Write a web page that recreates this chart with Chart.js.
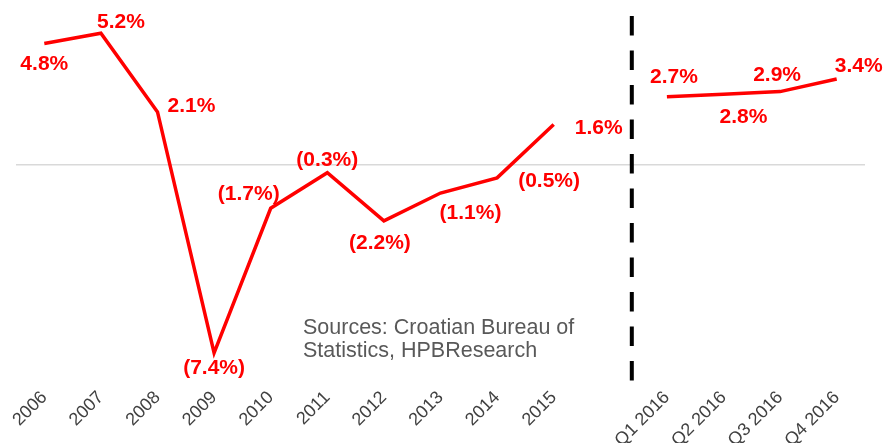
<!DOCTYPE html>
<html>
<head>
<meta charset="utf-8">
<script src="https://cdn.jsdelivr.net/npm/chart.js@4.4.1/dist/chart.umd.min.js"></script>
<style>
  html, body { margin: 0; padding: 0; background: #fff; }
  #wrap { position: relative; width: 883px; height: 443px; }
</style>
</head>
<body>
<div id="wrap"><canvas id="gdp-chart" width="883" height="443"></canvas></div>
<script>
// annual real GDP growth, then 2016 quarterly growth (y/y, %)
var years = ["2006", "2007", "2008", "2009", "2010", "2011", "2012", "2013", "2014", "2015"];
var quarters = ["Q1 2016", "Q2 2016", "Q3 2016", "Q4 2016"];
var annualGrowth = [4.8, 5.2, 2.1, -7.4, -1.7, -0.3, -2.2, -1.1, -0.5, 1.6];
var quarterlyGrowth = [2.7, 2.8, 2.9, 3.4];

// where each value label sits relative to its point (px)
var annualLabelOffsets = [[0, 21], [20, -11], [34, -6], [0, 15], [-22, -14], [0, -13], [-4, 22], [30, 20], [52, 3], [45, 4]];
var quarterlyLabelOffsets = [[7, -19], [20, 23], [-3, -16], [22, -13]];

var FONT = "'Liberation Sans', Arial, sans-serif";
var RED = "#ff0000";

var labels = years.concat([""], quarters);
var annualData = annualGrowth.concat(labels.slice(years.length).map(function () { return null; }));
var quarterlyData = labels.slice(0, years.length + 1).map(function () { return null; }).concat(quarterlyGrowth);

function fmtPct(v) {
  var s = Math.abs(v).toFixed(1) + "%";
  return v < 0 ? "(" + s + ")" : s;
}

// value labels next to the points
var valueLabels = {
  id: "valueLabels",
  afterDatasetsDraw: function (chart) {
    var ctx = chart.ctx;
    var offsets = [annualLabelOffsets, quarterlyLabelOffsets];
    ctx.save();
    ctx.font = "bold 21px " + FONT;
    ctx.fillStyle = RED;
    ctx.textAlign = "center";
    ctx.textBaseline = "middle";
    chart.data.datasets.forEach(function (ds, di) {
      var meta = chart.getDatasetMeta(di);
      var k = 0;
      ds.data.forEach(function (v, i) {
        if (v === null) return;
        var pt = meta.data[i];
        var off = offsets[di][k++];
        ctx.fillText(fmtPct(v), pt.x + off[0], pt.y + off[1]);
      });
    });
    ctx.restore();
  }
};

// dashed divider between annual and quarterly data, plus source note
var extras = {
  id: "extras",
  afterDraw: function (chart) {
    var ctx = chart.ctx;
    var area = chart.chartArea;
    var x = chart.scales.x.getPixelForValue(10.38);
    ctx.save();
    ctx.strokeStyle = "#000";
    ctx.lineWidth = 4;
    ctx.setLineDash([19.5, 15]);
    ctx.beginPath();
    ctx.moveTo(x, area.top + 3);
    ctx.lineTo(x, area.bottom + 13);
    ctx.stroke();
    ctx.restore();

    ctx.save();
    ctx.font = "21.5px " + FONT;
    ctx.fillStyle = "#595959";
    ctx.textBaseline = "alphabetic";
    ctx.fillText("Sources: Croatian Bureau of", 303, 334);
    ctx.fillText("Statistics, HPBResearch", 303, 357);
    ctx.restore();
  }
};

new Chart(document.getElementById("gdp-chart"), {
  type: "line",
  data: {
    labels: labels,
    datasets: [
      { data: annualData, borderColor: RED, borderWidth: 3.5, pointRadius: 0, tension: 0, spanGaps: false },
      { data: quarterlyData, borderColor: RED, borderWidth: 3.5, pointRadius: 0, tension: 0, spanGaps: false }
    ]
  },
  options: {
    responsive: false,
    animation: false,
    layout: { padding: { left: 16, right: 18, top: 13, bottom: 0 } },
    plugins: { legend: { display: false }, tooltip: { enabled: false } },
    scales: {
      x: {
        offset: true,
        border: { display: false },
        grid: { display: false, drawTicks: false },
        ticks: {
          autoSkip: false,
          minRotation: 45,
          maxRotation: 45,
          padding: 19,
          color: "#404040",
          font: { family: FONT, size: 18 }
        },
        afterFit: function (scale) {
          scale.height = 75;
          scale.paddingLeft = 0;
          scale.paddingRight = 0;
        }
      },
      y: {
        min: -8,
        max: 6,
        border: { display: false },
        ticks: { display: false, stepSize: 2 },
        grid: {
          drawTicks: false,
          lineWidth: 1.5,
          color: function (c) { return c.tick && c.tick.value === 0 ? "#d9d9d9" : "rgba(0,0,0,0)"; }
        },
        afterFit: function (scale) { scale.width = 0; }
      }
    }
  },
  plugins: [valueLabels, extras]
});
</script>
</body>
</html>
